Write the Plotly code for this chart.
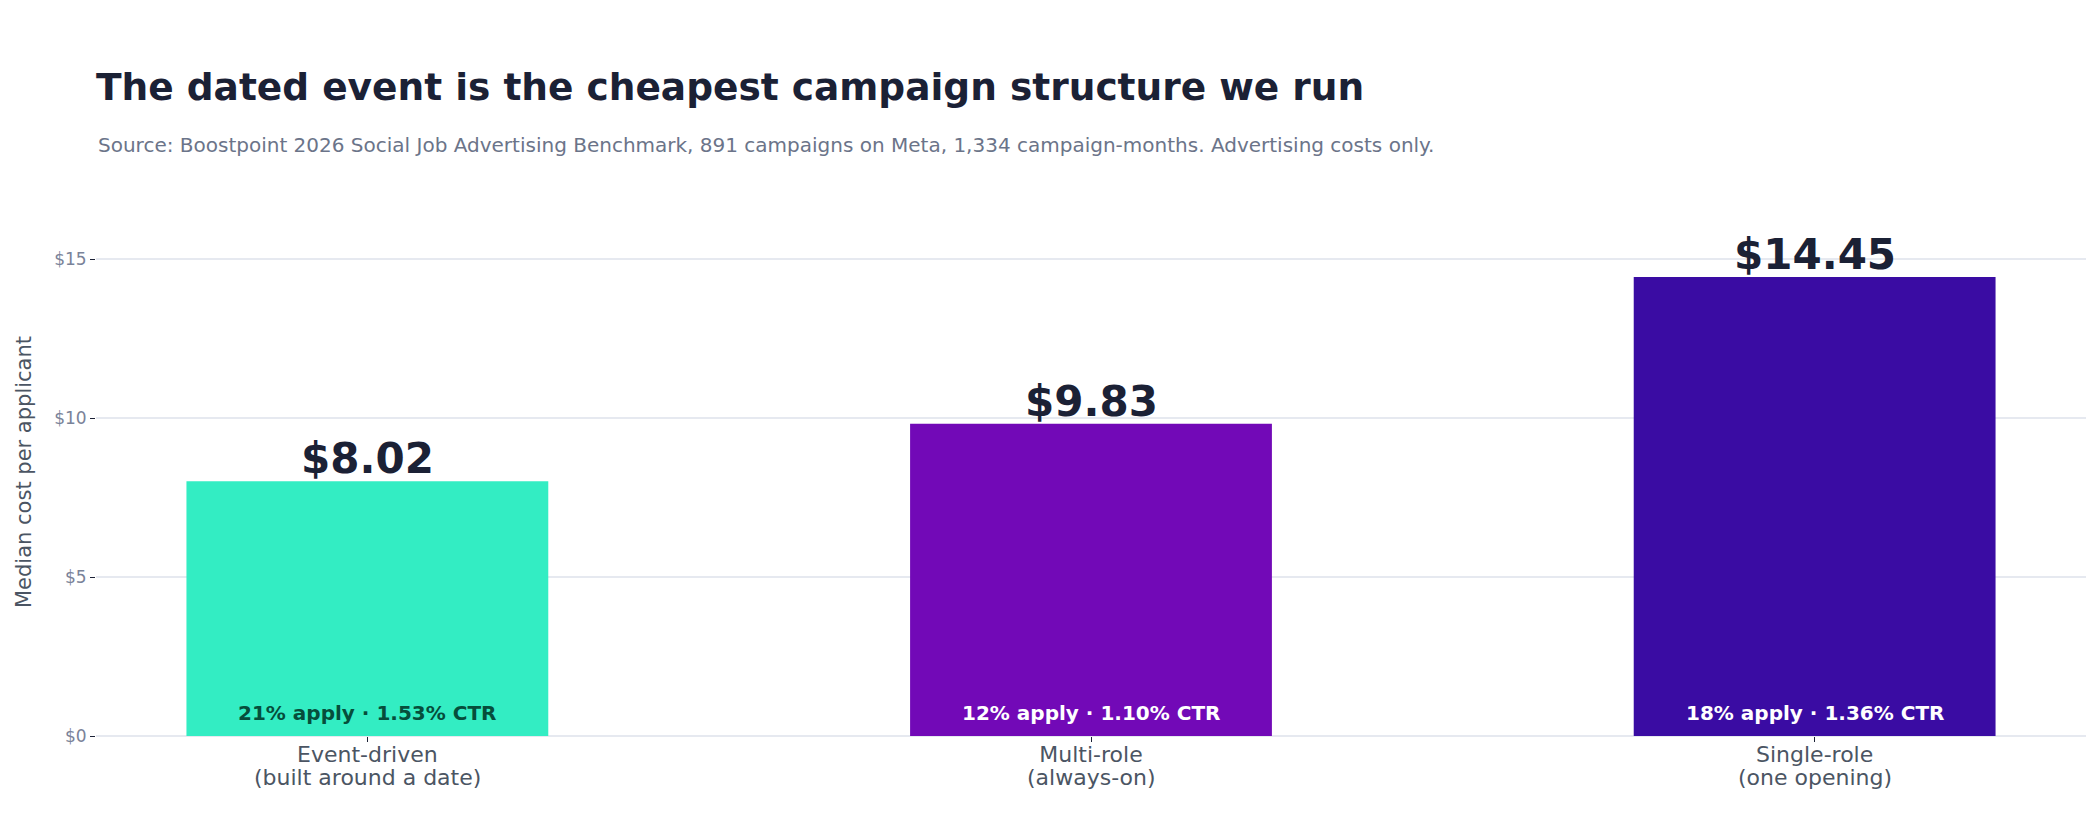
import plotly.graph_objects as go

# campaign structures and their median cost per applicant
categories = ["Event-driven", "Multi-role", "Single-role"]
category_notes = ["(built around a date)", "(always-on)", "(one opening)"]
cost_per_applicant = [8.02, 9.83, 14.45]
apply_rate = ["21%", "12%", "18%"]
ctr = ["1.53%", "1.10%", "1.36%"]
y_ticks = [0, 5, 10, 15]
bar_colors = ["#33EDC3", "#7209B7", "#3A0CA3"]
inner_text_colors = ["#064E3B", "#FFFFFF", "#FFFFFF"]

FONT = "DejaVu Sans"
DARK = "#1B2135"
AXIS_TEXT = "#4B5563"

fig = go.Figure()
fig.add_trace(go.Bar(
  x=categories,
  y=cost_per_applicant,
  marker_color=bar_colors,
  marker_line_width=0,
  width=0.5,
  hovertemplate="%{x}: $%{y:.2f}<extra></extra>",
))

# big value above each bar
for cat, val in zip(categories, cost_per_applicant):
  fig.add_annotation(x=cat, y=val, text="$" + format(val, ".2f"), showarrow=False,
                     yanchor="bottom", yshift=-4,
                     font=dict(family=FONT, size=42, color=DARK, weight="bold"))

# apply rate / CTR at the foot of each bar
for cat, ap, c, col in zip(categories, apply_rate, ctr, inner_text_colors):
  fig.add_annotation(x=cat, y=0, text=ap + " apply · " + c + " CTR", showarrow=False,
                     yanchor="bottom", yshift=9,
                     font=dict(family=FONT, size=20, color=col, weight="bold"))

# second line of each category label, set tight under the tick label
for cat, note in zip(categories, category_notes):
  fig.add_annotation(x=cat, y=0, text=note, showarrow=False,
                     yanchor="top", yshift=-27,
                     font=dict(family=FONT, size=22, color=AXIS_TEXT))

fig.update_layout(
  width=2100, height=820,
  paper_bgcolor="white", plot_bgcolor="white",
  font=dict(family=FONT),
  margin=dict(l=88, r=22, t=200, b=92),
  showlegend=False,
  title=dict(
    text="The dated event is the cheapest campaign structure we run",
    x=88 / 2100, xanchor="left", xref="container",
    y=1 - 79 / 820, yanchor="middle", yref="container",
    font=dict(family=FONT, size=37.5, color=DARK, weight="bold"),
  ),
)
fig.add_annotation(
  text="Source: Boostpoint 2026 Social Job Advertising Benchmark, 891 campaigns on Meta, 1,334 campaign-months. Advertising costs only.",
  xref="paper", yref="paper", x=0, y=1, xanchor="left", yanchor="middle",
  yshift=63, showarrow=False,
  font=dict(family=FONT, size=20, color="#6B7489"),
)
fig.update_xaxes(
  range=[-0.375, 2.375],
  ticks="outside", ticklen=5, tickcolor="#1B2135",
  ticklabelstandoff=-6,
  tickfont=dict(family=FONT, size=22, color=AXIS_TEXT),
  showgrid=False, showline=False, zeroline=False,
)
fig.update_yaxes(
  range=[0, 16.62],
  tickvals=y_ticks, ticktext=["$" + str(t) for t in y_ticks],
  ticks="outside", ticklen=5, tickcolor="#1B2135",
  tickfont=dict(family=FONT, size=17, color="#7A8399"),
  gridcolor="#E6E9F0", gridwidth=1.5,
  zeroline=True, zerolinecolor="#E6E9F0", zerolinewidth=1.5,
  title=dict(text="Median cost per applicant", font=dict(family=FONT, size=21, color=AXIS_TEXT), standoff=16),
)

fig.write_html("out.html")
